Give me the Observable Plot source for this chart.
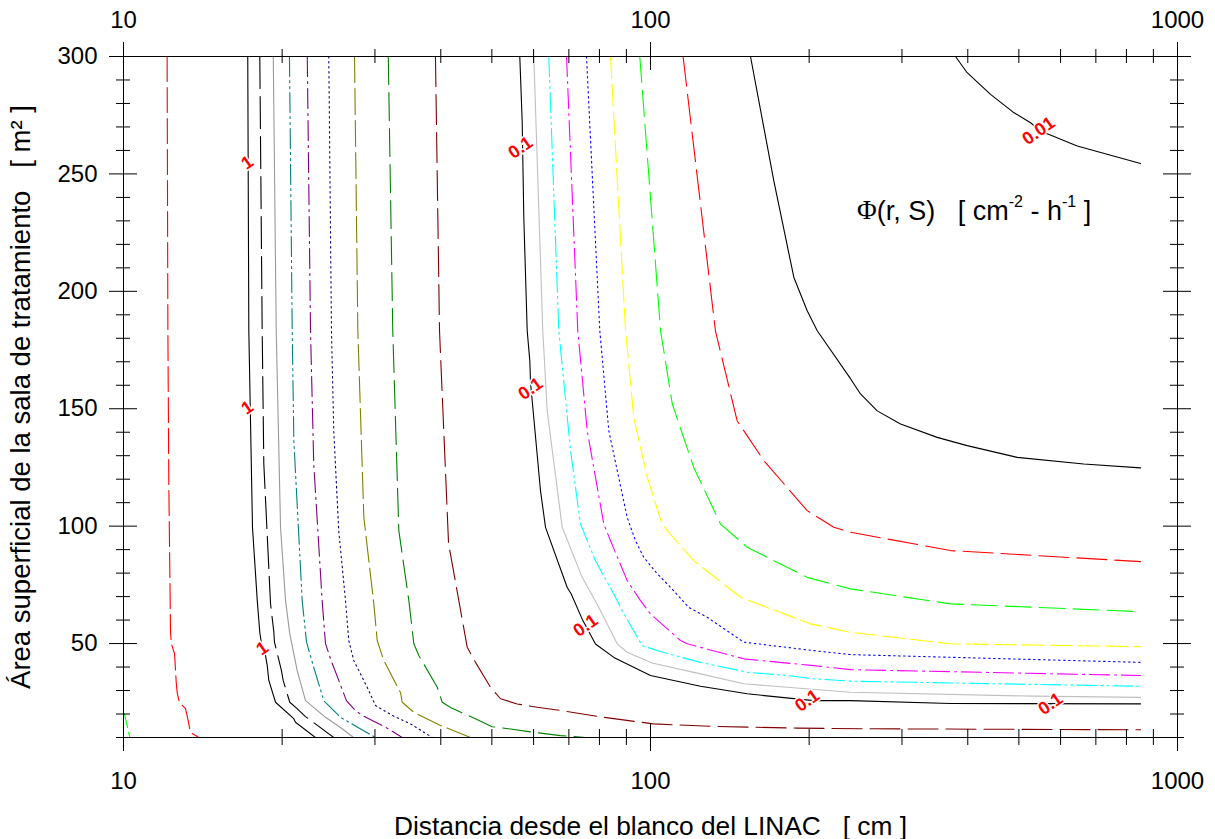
<!DOCTYPE html>
<html><head><meta charset="utf-8">
<script src="https://cdn.jsdelivr.net/npm/d3@7"></script>
<script src="https://cdn.jsdelivr.net/npm/@observablehq/plot@0.6"></script>
<style>
html,body{margin:0;padding:0;background:#fff;}
svg text{white-space:pre;}
</style></head>
<body><div id="chart"></div>
<script>
// ---- axis ticks (distance r in cm, log scale; area S in m²) ----
const distanceTicksMajor = [10, 100, 1000];
const distanceTicksMinor = [20, 30, 40, 50, 60, 70, 80, 90, 200, 300, 400, 500, 600, 700, 800, 900];
const areaTicksMajor = [50, 100, 150, 200, 250, 300];
const areaTicksMinor = [10, 20, 30, 40, 60, 70, 80, 90, 110, 120, 130, 140, 160, 170, 180, 190, 210, 220, 230, 240, 260, 270, 280, 290];

// ---- contour lines [r (cm), S (m²)] ----
const cRedLeft = [[12.10,300],[12.14,183.2],[12.19,118],[12.28,55.5],[12.32,50],[12.50,45.7],[12.59,33.4],[12.65,28.7],[12.77,24.9],[13.11,22.3],[13.24,18.1],[13.40,12.1],[13.90,10]];
const cLimeCorner = [[10.04,20.1],[10.28,10]];
const c1Black = [[17.21,300],[17.29,183.2],[17.57,99.4],[17.94,68.3],[18.14,54.7],[18.33,47.9],[18.60,44.9],[18.74,40.6],[18.87,34.3],[19.43,25.0],[21.04,18.0],[21.20,16.5],[23.13,10]];
const c1BlackDash = [[18.14,300],[18.33,183.2],[18.46,126.6],[19.01,67.0],[19.29,54.8],[19.34,50.6],[19.94,38.5],[20.09,34.3],[20.68,25.0],[21.27,22.6],[22.15,18.9],[25.06,10]];
const c1Gray = [[19.24,300],[19.49,183.2],[19.86,99.4],[20.30,68.3],[20.68,54.1],[21.36,38.5],[22.15,25.7],[24.17,18.6],[26.00,13.7],[27.32,10]];
const c1Teal = [[20.65,300],[20.90,183.2],[21.05,136.4],[21.83,68.3],[22.25,50.6],[22.96,39.9],[23.99,25.7],[25.81,18.6],[30.08,10]];
const c1Purple = [[22.32,300],[22.64,183.2],[22.96,126.6],[23.82,68.3],[24.17,50.0],[24.70,43.6],[26.49,25.7],[27.55,21.5],[28.38,19.4],[29.64,17.2],[31.42,14.4],[33.80,10]];
const c1Navy = [[24.52,300],[24.81,183.2],[25.06,140.6],[25.61,98.1],[26.38,68.3],[26.76,51.3],[27.35,42.8],[29.00,31.4],[30.08,23.6],[32.36,19.4],[35.05,15.8],[38.53,10]];
const c1Olive = [[27.44,300],[27.84,183.2],[28.58,103.7],[29.85,67.0],[30.30,51.3],[31.18,42.8],[33.55,29.1],[33.80,25.0],[35.56,20.7],[39.96,15.1],[45.54,10]];
const c1Green = [[31.80,300],[32.43,183.2],[33.30,98.1],[34.79,68.3],[35.56,49.9],[36.34,44.9],[39.39,31.4],[40.25,25.0],[41.74,22.8],[45.89,18.6],[50.06,14.6],[54.24,13.6],[60.06,12.2],[67.48,10.8],[75.29,10]];
const c1Maroon = [[39.08,300],[39.78,183.2],[41.38,92.6],[43.28,68.3],[44.90,48.4],[46.55,42.0],[49.71,31.4],[51.94,26.5],[55.85,24.3],[58.35,23.6],[60.95,22.9],[67.48,21.5],[81.54,18.6],[101.3,15.8],[131.7,14.7],[190.1,14.0],[261.6,13.7],[850.8,13.3]];
const c01Black = [[56.49,300],[57.08,272.5],[57.49,231.4],[58.35,183.2],[59.02,170.4],[59.20,161.2],[59.64,153.4],[61.84,115.1],[63.21,99.5],[69.50,73.9],[70.73,71.1],[74.20,60.4],[78.63,49.8],[85.19,44.1],[100,36.4],[124.4,31.8],[152.6,28.6],[203.9,25.7],[239.6,25.7],[371.0,24.5],[850.8,24.3]];
const c01Gray = [[60.06,300],[62.46,183.2],[63.68,149.1],[67.99,99.5],[74.20,78.2],[79.67,65.7],[86.46,49.9],[90.32,46.3],[100.7,41.7],[124.4,37.1],[150.3,32.9],[181.7,31.4],[239.6,29.3],[533.2,27.6],[850.8,27.1]];
const c01Cyan = [[64.12,300],[66.99,183.2],[70.52,132.1],[73.65,100.9],[78.63,85.3],[85.19,71.1],[88.37,64.0],[96.43,49.1],[104.5,46.6],[124.4,42.0],[152.6,37.8],[181.7,36.4],[203.9,35.0],[239.6,34.0],[850.8,31.8]];
const c01Magenta = [[69.29,300],[72.78,183.2],[75.84,140.6],[81.54,100.9],[83.97,93.8],[90.32,76.8],[95.72,68.3],[100,62.6],[114.0,51.3],[117.4,49.9],[150.3,43.5],[203.9,40.6],[239.6,38.9],[850.8,36.4]];
const c01Blue = [[75.61,300],[80.13,183.2],[83.35,140.6],[90.32,103.7],[93.65,93.8],[97.12,86.7],[103.0,79.7],[109.1,74.0],[118.2,65.4],[128.1,61.2],[150.3,50.6],[203.9,47.0],[239.6,45.3],[850.8,42.0]];
const c01Yellow = [[83.97,300],[89.67,183.2],[92.96,146.3],[98.56,120.8],[105.2,100.9],[107.6,98.1],[120.8,85.3],[148.2,69.7],[201.2,58.4],[239.6,54.8],[371.0,49.9],[850.8,48.7]];
const c01Lime = [[95.43,300],[104.5,183.2],[110.0,152.0],[120.8,125.0],[135.8,100.9],[152.6,91.0],[198.3,78.2],[239.6,73.3],[371.0,66.9],[850.8,63.6]];
const c01Red = [[115.3,300],[132.8,183.2],[146.0,144.9],[164.1,127.9],[198.3,106.6],[222.7,99.5],[239.6,97.4],[371.0,89.6],[850.8,84.9]];
const c001BlackA = [[154.8,300],[171.4,247.0],[187.1,205.9],[198.3,191.7],[207.2,183.2],[239.6,162.8],[250.3,156.3],[269.3,149.1],[298.2,143.5],[349.9,137.8],[398.9,134.3],[496.4,129.3],[664.0,126.5],[850.8,124.8]];
const c001BlackB = [[379.1,300],[398.9,293.1],[441.8,283.9],[487.0,276.4],[526.2,271.8],[549.5,268.3],[645.3,261.9],[850.8,254.4]];

// ---- contour labels ----
const labelText = ["1", "1", "1", "0.1", "0.1", "0.1", "0.1", "0.1", "0.01"];
const labelR = [17.17, 17.17, 18.33, 56.66, 59.20, 75.29, 198.3, 574.1, 544.8];
const labelS = [254.8, 150.5, 47.9, 261.2, 158.5, 57.7, 25.7, 24.3, 268.3];

// ---- texts ----
const xTitle = "Distancia desde el blanco del LINAC   [ cm ]";
const yTitle = "Área superficial de la sala de tratamiento   [ m² ]";
const phiAt = [247, 233];

// ---- styles (separate from data) ----
const DDOT = "20,4,2,4,2,4", DDASH = "20,5,2,5", DOTS = "1.5,3.5";
const series = [
  {data: cRedLeft, stroke: "#FF0000", dash: "25,6"},
  {data: cLimeCorner, stroke: "#00FF00", dash: "14,5"},
  {data: c1Black, stroke: "#000000", dash: null},
  {data: c1BlackDash, stroke: "#000000", dash: "32,8"},
  {data: c1Gray, stroke: "#999999", dash: null},
  {data: c1Teal, stroke: "#008080", dash: DDOT},
  {data: c1Purple, stroke: "#800080", dash: DDASH},
  {data: c1Navy, stroke: "#000080", dash: DOTS},
  {data: c1Olive, stroke: "#808000", dash: "26,6"},
  {data: c1Green, stroke: "#008000", dash: "28,8"},
  {data: c1Maroon, stroke: "#800000", dash: "30,8"},
  {data: c01Black, stroke: "#000000", dash: null},
  {data: c01Gray, stroke: "#C0C0C0", dash: null},
  {data: c01Cyan, stroke: "#00FFFF", dash: DDOT},
  {data: c01Magenta, stroke: "#FF00FF", dash: DDASH},
  {data: c01Blue, stroke: "#0000FF", dash: DOTS},
  {data: c01Yellow, stroke: "#FFFF00", dash: "22,6"},
  {data: c01Lime, stroke: "#00FF00", dash: "26,8"},
  {data: c01Red, stroke: "#FF0000", dash: "30,8"},
  {data: c001BlackA, stroke: "#000000", dash: null},
  {data: c001BlackB, stroke: "#000000", dash: null}
];

const ML = 123, MR = 38, MT = 56, MB = 102, W = 1215, H = 839;
const IW = W - ML - MR, IH = H - MT - MB;
const labels = labelText.map((t, i) => ({t, r: labelR[i], s: labelS[i]}));

const chart = Plot.plot({
  width: W, height: H,
  marginLeft: ML, marginRight: MR, marginTop: MT, marginBottom: MB,
  x: {type: "log", domain: [10, 1000], axis: null},
  y: {domain: [10, 300], axis: null},
  style: {fontFamily: "'Liberation Sans', Arial, sans-serif", background: "#fff", color: "#000", overflow: "visible"},
  marks: [
    ...series.map(s => Plot.line(s.data, {x: d => d[0], y: d => d[1], stroke: s.stroke, strokeWidth: 1.1, strokeDasharray: s.dash, clip: true})),
    Plot.text(labels, {x: "r", y: "s", text: "t", rotate: -35, fill: "#FF0000", fontWeight: "bold", fontSize: 18, stroke: "#fff", strokeWidth: 3, paintOrder: "stroke"}),
    Plot.frame({stroke: "#000", strokeWidth: 1}),
    // x ticks bottom & top (crossing the frame)
    Plot.tickX(distanceTicksMinor, {x: d => d, insetTop: IH - 8, insetBottom: -8, stroke: "#000"}),
    Plot.tickX(distanceTicksMajor, {x: d => d, insetTop: IH - 14, insetBottom: -14, stroke: "#000"}),
    Plot.tickX(distanceTicksMinor, {x: d => d, insetTop: -7, insetBottom: IH - 7, stroke: "#000"}),
    Plot.tickX(distanceTicksMajor, {x: d => d, insetTop: -14, insetBottom: IH - 14, stroke: "#000"}),
    // y ticks left & right
    Plot.tickY(areaTicksMinor, {y: d => d, insetLeft: -7, insetRight: IW - 7, stroke: "#000"}),
    Plot.tickY(areaTicksMajor, {y: d => d, insetLeft: -14, insetRight: IW - 14, stroke: "#000"}),
    Plot.tickY(areaTicksMinor, {y: d => d, insetLeft: IW - 7, insetRight: -7, stroke: "#000"}),
    Plot.tickY(areaTicksMajor, {y: d => d, insetLeft: IW - 14, insetRight: -14, stroke: "#000"}),
    // tick labels
    Plot.text(distanceTicksMajor, {x: d => d, text: d => String(d), frameAnchor: "bottom", lineAnchor: "middle", dy: 44, fontSize: 24}),
    Plot.text(distanceTicksMajor, {x: d => d, text: d => String(d), frameAnchor: "top", lineAnchor: "middle", dy: -36, fontSize: 24}),
    Plot.text(areaTicksMajor, {y: d => d, text: d => String(d), frameAnchor: "left", textAnchor: "end", lineAnchor: "middle", dx: -26, fontSize: 24}),
    // axis titles
    Plot.text([xTitle], {text: d => d, frameAnchor: "bottom", lineAnchor: "middle", textAnchor: "middle", dy: 89, fontSize: 26.3}),
    Plot.text([yTitle], {text: d => d, frameAnchor: "left", textAnchor: "middle", lineAnchor: "middle", rotate: -90, dx: -102, fontSize: 27.5})
  ]
});

document.getElementById("chart").appendChild(chart);

// Φ(r, S) annotation with superscripts, placed through the plot's scales
const sx = chart.scale("x"), sy = chart.scale("y");
const fx = sx.apply ? v => sx.apply(v) : d3.scaleLog(sx.domain, sx.range);
const fy = sy.apply ? v => sy.apply(v) : d3.scaleLinear(sy.domain, sy.range);
const t = d3.select(chart).append("text")
  .attr("x", fx(phiAt[0])).attr("y", fy(phiAt[1]))
  .attr("text-anchor", "start")
  .attr("dominant-baseline", "middle")
  .attr("font-size", 27).attr("fill", "#000")
  .attr("font-family", "'Liberation Sans', Arial, sans-serif");
t.append("tspan").attr("font-family", "'Liberation Serif', 'Times New Roman', serif").text("Φ");
t.append("tspan").text("(r, S)   [ cm");
t.append("tspan").attr("font-size", 16).attr("dy", -10).text("-2");
t.append("tspan").attr("dy", 10).text(" - h");
t.append("tspan").attr("font-size", 16).attr("dy", -10).text("-1");
t.append("tspan").attr("dy", 10).text(" ]");
</script>
</body></html>
